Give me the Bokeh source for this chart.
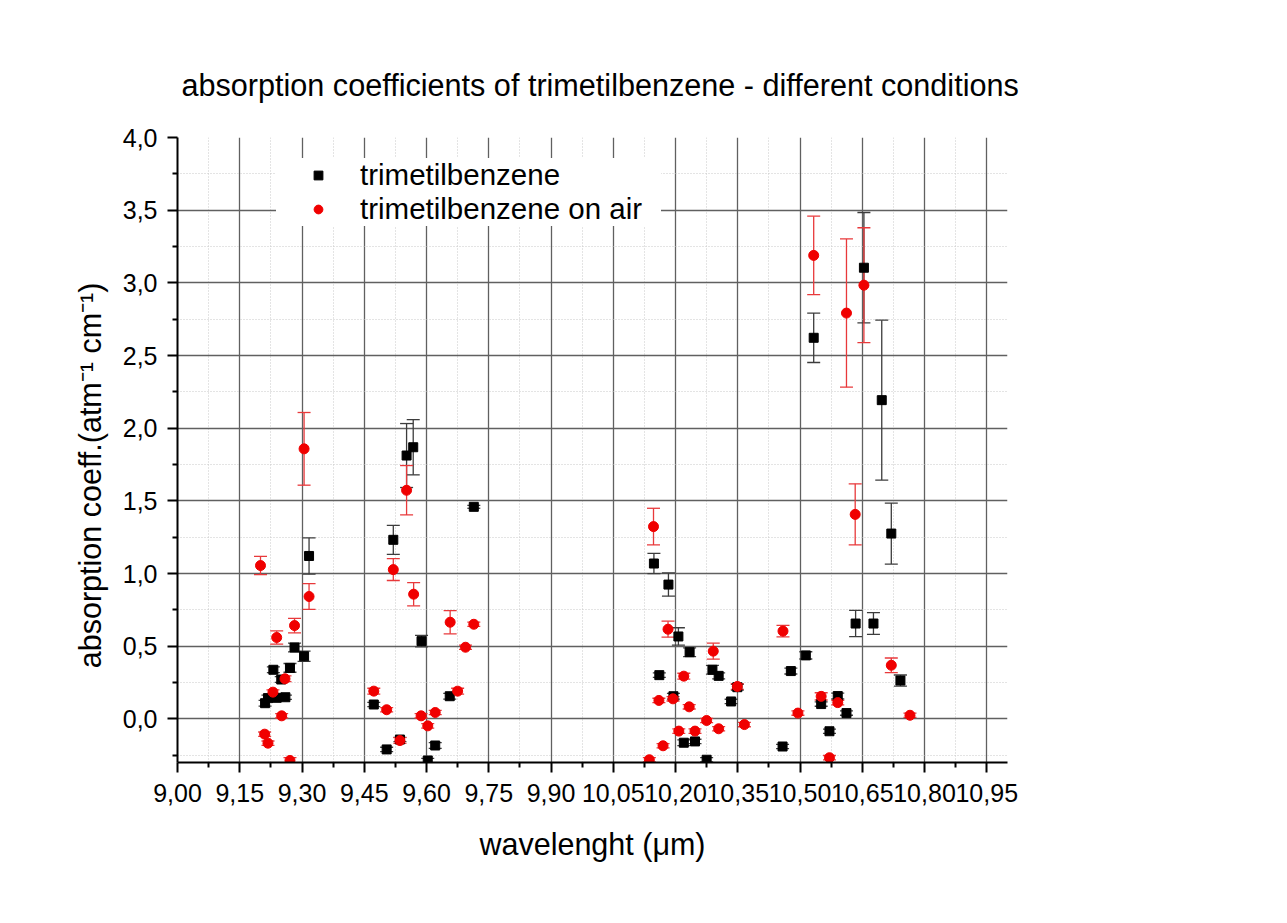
import numpy as np
from bokeh.plotting import figure
from bokeh.models import (Range1d, FixedTicker, CustomJSTickFormatter, Whisker, TeeHead,
                          ColumnDataSource, Legend, LegendItem)
from bokeh.embed import file_html
from bokeh.resources import INLINE

# ---------------- data ----------------
tmb_x = [9.211, 9.218, 9.231, 9.239, 9.250, 9.260, 9.271, 9.282, 9.305, 9.317,
         9.473, 9.504, 9.520, 9.536, 9.552, 9.568, 9.588, 9.603, 9.621, 9.656, 9.714,
         10.148, 10.161, 10.183, 10.195, 10.207, 10.220, 10.234, 10.247, 10.275, 10.289,
         10.304, 10.334, 10.349, 10.458, 10.478, 10.514, 10.533, 10.551, 10.571, 10.591,
         10.612, 10.634, 10.654, 10.677, 10.697, 10.720, 10.742]
tmb_y = [0.108, 0.143, 0.338, 0.145, 0.271, 0.149, 0.351, 0.491, 0.431, 1.121,
         0.099, -0.210, 1.232, -0.142, 1.812, 1.869, 0.535, -0.286, -0.183, 0.156, 1.459,
         1.069, 0.301, 0.924, 0.156, 0.567, -0.164, 0.459, -0.155, -0.281, 0.338,
         0.296, 0.120, 0.218, -0.190, 0.329, 0.437, 2.622, 0.102, -0.085, 0.157,
         0.040, 0.656, 3.104, 0.656, 2.193, 1.275, 0.264]
tmb_err = [0.02, 0.02, 0.02, 0.015, 0.02, 0.015, 0.03, 0.03, 0.035, 0.125,
           0.015, 0.015, 0.10, 0.015, 0.22, 0.19, 0.04, 0.015, 0.02, 0.02, 0.01,
           0.07, 0.015, 0.08, 0.02, 0.06, 0.02, 0.03, 0.015, 0.015, 0.03,
           0.02, 0.015, 0.02, 0.015, 0.02, 0.025, 0.17, 0.015, 0.015, 0.02,
           0.015, 0.09, 0.38, 0.075, 0.55, 0.21, 0.038]

air_x = [9.200, 9.210, 9.218, 9.230, 9.239, 9.251, 9.259, 9.271, 9.282, 9.305, 9.317,
         9.473, 9.504, 9.520, 9.536, 9.552, 9.569, 9.587, 9.603, 9.621, 9.657, 9.675,
         9.694, 9.714,
         10.137, 10.147, 10.160, 10.170, 10.182, 10.194, 10.208, 10.220, 10.233, 10.247,
         10.275, 10.291, 10.304, 10.349, 10.366, 10.459, 10.495, 10.533, 10.551, 10.571,
         10.591, 10.612, 10.633, 10.654, 10.720, 10.765]
air_y = [1.055, -0.105, -0.167, 0.184, 0.560, 0.021, 0.276, -0.286, 0.642, 1.858, 0.842,
         0.191, 0.063, 1.027, -0.149, 1.573, 0.858, 0.021, -0.048, 0.044, 0.665, 0.191,
         0.493, 0.651,
         -0.281, 1.323, 0.127, -0.185, 0.617, 0.138, -0.084, 0.294, 0.083, -0.084,
         -0.011, 0.466, -0.068, 0.223, -0.039, 0.604, 0.040, 3.189, 0.155, -0.267,
         0.112, 2.792, 1.407, 2.984, 0.369, 0.025]
air_err = [0.063, 0.015, 0.015, 0.015, 0.045, 0.015, 0.02, 0.02, 0.05, 0.25, 0.088,
           0.02, 0.015, 0.075, 0.02, 0.17, 0.08, 0.015, 0.015, 0.015, 0.08, 0.02,
           0.015, 0.015,
           0.015, 0.126, 0.015, 0.015, 0.055, 0.015, 0.015, 0.02, 0.015, 0.015,
           0.015, 0.055, 0.015, 0.02, 0.015, 0.04, 0.015, 0.27, 0.025, 0.015,
           0.015, 0.51, 0.21, 0.395, 0.05, 0.015]

x_major = [9.00, 9.15, 9.30, 9.45, 9.60, 9.75, 9.90, 10.05, 10.20, 10.35, 10.50, 10.65, 10.80, 10.95]
y_major = [0.0, 0.5, 1.0, 1.5, 2.0, 2.5, 3.0, 3.5, 4.0]

series_names = ["trimetilbenzene", "trimetilbenzene on air"]
title_text = "absorption coefficients of trimetilbenzene - different conditions"
x_label = "wavelenght (\u03bcm)"
y_label = "absorption coeff.(atm\u207b\u00b9 cm\u207b\u00b9)" + "\u00a0" * 6

# ---------------- figure ----------------
FONT = "Liberation Sans"
x_minor = [round(a + 0.075, 3) for a in x_major]
y_minor = [round(a - 0.25, 2) for a in y_major]

p = figure(width=1287, height=923, output_backend="svg", toolbar_location=None,
           x_range=Range1d(9.0, 11.0), y_range=Range1d(-0.3, 4.0),
           min_border_left=177, min_border_right=280, min_border_top=137, min_border_bottom=161)
p.outline_line_color = None
p.background_fill_color = "white"
p.border_fill_color = "white"

p.title.text = title_text
p.title.text_font = FONT
p.title.text_font_size = "30.6px"
p.title.text_font_style = "normal"
p.title.text_color = "black"
p.title.align = "left"
p.title.offset = 4
p.title.standoff = 71

for ax, ticks, minors, fmt in ((p.xaxis[0], x_major, x_minor, "return tick.toFixed(2).replace('.', ',');"),
                               (p.yaxis[0], y_major, y_minor, "return tick.toFixed(1).replace('.', ',');")):
    ax.ticker = FixedTicker(ticks=ticks, minor_ticks=minors)
    ax.formatter = CustomJSTickFormatter(code=fmt)
    ax.axis_line_color = "black"
    ax.axis_line_width = 2
    ax.major_tick_line_color = "black"
    ax.major_tick_line_width = 2
    ax.minor_tick_line_color = "black"
    ax.minor_tick_line_width = 2
    ax.major_tick_out = 10
    ax.major_tick_in = 0
    ax.minor_tick_out = 5
    ax.minor_tick_in = 0
    ax.major_label_text_font = FONT
    ax.major_label_text_font_size = "25px"
    ax.major_label_text_color = "black"
    ax.axis_label_text_font = FONT
    ax.axis_label_text_font_size = "30.5px"
    ax.axis_label_text_font_style = "normal"
    ax.axis_label_text_color = "black"

p.xaxis.axis_label = x_label
p.yaxis.axis_label = y_label
p.xaxis.major_label_standoff = 11
p.xaxis.axis_label_standoff = 22
p.yaxis.major_label_standoff = 10
p.yaxis.axis_label_standoff = 13

p.xgrid.ticker = FixedTicker(ticks=x_major[1:], minor_ticks=x_minor)
p.ygrid.ticker = FixedTicker(ticks=y_major[:-1], minor_ticks=y_minor)
for g in (p.xgrid[0], p.ygrid[0]):
    g.grid_line_color = "#606060"
    g.grid_line_width = 1.3
    g.minor_grid_line_color = "#c8c8c8"
    g.minor_grid_line_dash = "1 2"
    g.minor_grid_line_width = 1

# ---------------- data glyphs ----------------
src_t = ColumnDataSource(dict(x=tmb_x, y=tmb_y,
                              lo=list(np.array(tmb_y) - np.array(tmb_err)),
                              hi=list(np.array(tmb_y) + np.array(tmb_err))))
src_a = ColumnDataSource(dict(x=air_x, y=air_y,
                              lo=list(np.array(air_y) - np.array(air_err)),
                              hi=list(np.array(air_y) + np.array(air_err))))

BLK_ERR = "#3c3c3c"
RED_ERR = "#e8393b"
RED = "#f00000"

for src, col in ((src_t, BLK_ERR), (src_a, RED_ERR)):
    w = Whisker(source=src, base="x", lower="lo", upper="hi",
                line_color=col, line_width=1.3,
                upper_head=TeeHead(size=13, line_color=col, line_width=1.3),
                lower_head=TeeHead(size=13, line_color=col, line_width=1.3))
    p.add_layout(w)

r_t = p.scatter("x", "y", source=src_t, marker="square", size=9,
                fill_color="black", line_color="black")
r_a = p.scatter("x", "y", source=src_a, marker="circle", size=10,
                fill_color=RED, line_color=RED)

legend = Legend(items=[LegendItem(label=series_names[0], renderers=[r_t]),
                       LegendItem(label=series_names[1], renderers=[r_a])],
                location=(99, 536), orientation="vertical",
                background_fill_color="white", background_fill_alpha=1.0,
                border_line_color=None, padding=10, spacing=-2, margin=0,
                glyph_width=84, glyph_height=22, label_height=31, label_width=301,
                label_standoff=0,
                label_text_font=FONT, label_text_font_size="29.5px", label_text_color="black")
p.add_layout(legend)

open("out.html", "w").write(file_html(p, INLINE))
